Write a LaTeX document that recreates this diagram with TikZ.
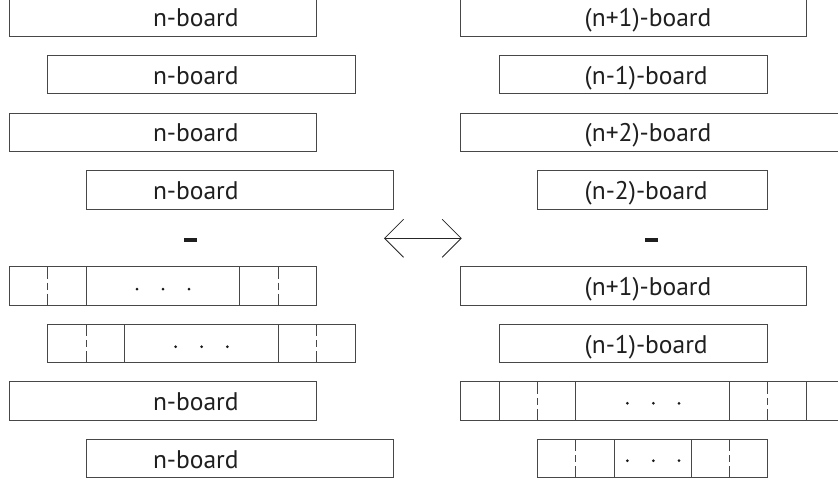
\documentclass[tikz,border=0pt]{standalone}
\usepackage{fontspec}
\setmainfont{PT Sans}
\usetikzlibrary{arrows.meta}
\begin{document}
\begin{tikzpicture}[x=1pt,y=-1pt,
  board/.style={draw=black!72, line width=0.9pt, minimum height=38.4pt, inner sep=0pt, outer sep=0pt, anchor=west},
  lbl/.style={font=\fontsize{25.5}{30}\selectfont, text=black!88, inner sep=0pt, anchor=base west},
  sepline/.style={draw=black!72, line width=0.9pt},
  dsepline/.style={sepline, dash pattern=on 12pt off 4pt on 7pt off 4pt on 12pt off 0pt},
  dotmark/.style={circle, fill=black!90, inner sep=0pt, minimum size=3pt},
  minusbar/.style={fill=black!88, inner sep=0pt, minimum width=13.3pt, minimum height=4pt},
  barb/.style={draw=black!85, line width=0.8pt, {Straight Barb[length=19pt,width=38pt]}-{Straight Barb[length=19pt,width=38pt]}}
]
\useasboundingbox (0,0) rectangle (838,482);

% ---------- left column ----------
\node[board, minimum width=307.2pt] (L1) at (9.5,17) {};
\node[board, minimum width=307.2pt] (L2) at (47.9,74.6) {};
\node[board, minimum width=307.2pt] (L3) at (9.5,132.2) {};
\node[board, minimum width=307.2pt] (L4) at (86.3,189.8) {};
\node[board, minimum width=307.2pt] (L5) at (9.5,285.8) {};
\node[board, minimum width=307.2pt] (L6) at (47.9,343.4) {};
\node[board, minimum width=307.2pt] (L7) at (9.5,401) {};
\node[board, minimum width=307.2pt] (L8) at (86.3,458.6) {};

\node[lbl] (tL1) at (152.8,26.7) {n-board};
\node[lbl] (tL2) at (152.8,84.3) {n-board};
\node[lbl] (tL3) at (152.8,141.9) {n-board};
\node[lbl] (tL4) at (152.8,199.5) {n-board};
\node[lbl] (tL7) at (152.8,410.7) {n-board};
\node[lbl] (tL8) at (152.8,468.3) {n-board};

% segmented left rows
\draw[dsepline] ([xshift=38.4pt]L5.north west) -- ([xshift=38.4pt]L5.south west);
\draw[sepline]  ([xshift=76.8pt]L5.north west) -- ([xshift=76.8pt]L5.south west);
\draw[sepline]  ([xshift=230.4pt]L5.north west) -- ([xshift=230.4pt]L5.south west);
\draw[dsepline] ([xshift=268.8pt]L5.north west) -- ([xshift=268.8pt]L5.south west);
\node[dotmark] at (137,289) {};
\node[dotmark] at (163,289) {};
\node[dotmark] at (189,289) {};

\draw[dsepline] ([xshift=38.4pt]L6.north west) -- ([xshift=38.4pt]L6.south west);
\draw[sepline]  ([xshift=76.8pt]L6.north west) -- ([xshift=76.8pt]L6.south west);
\draw[sepline]  ([xshift=230.4pt]L6.north west) -- ([xshift=230.4pt]L6.south west);
\draw[dsepline] ([xshift=268.8pt]L6.north west) -- ([xshift=268.8pt]L6.south west);
\node[dotmark] at (175.7,346.7) {};
\node[dotmark] at (201.7,346.7) {};
\node[dotmark] at (227.3,346.7) {};

% ---------- right column ----------
\node[board, minimum width=345.6pt] (R1) at (460.7,17) {};
\node[board, minimum width=268.8pt] (R2) at (499.1,74.6) {};
\node[board, minimum width=384pt]   (R3) at (460.7,132.2) {};
\node[board, minimum width=230.4pt] (R4) at (537.5,189.8) {};
\node[board, minimum width=345.6pt] (R5) at (460.7,285.8) {};
\node[board, minimum width=268.8pt] (R6) at (499.1,343.4) {};
\node[board, minimum width=384pt]   (R7) at (460.7,401) {};
\node[board, minimum width=230.4pt] (R8) at (537.5,458.6) {};

\node[lbl] (tR1) at (584.5,26.7) {(n+1)-board};
\node[lbl] (tR2) at (584.5,84.3) {(n-1)-board};
\node[lbl] (tR3) at (584.5,141.9) {(n+2)-board};
\node[lbl] (tR4) at (584.5,199.5) {(n-2)-board};
\node[lbl] (tR5) at (584.5,295.5) {(n+1)-board};
\node[lbl] (tR6) at (584.5,353.1) {(n-1)-board};

\draw[sepline]  ([xshift=38.4pt]R7.north west) -- ([xshift=38.4pt]R7.south west);
\draw[dsepline] ([xshift=76.8pt]R7.north west) -- ([xshift=76.8pt]R7.south west);
\draw[sepline]  ([xshift=115.2pt]R7.north west) -- ([xshift=115.2pt]R7.south west);
\draw[sepline]  ([xshift=268.8pt]R7.north west) -- ([xshift=268.8pt]R7.south west);
\draw[dsepline] ([xshift=307.2pt]R7.north west) -- ([xshift=307.2pt]R7.south west);
\draw[sepline]  ([xshift=345.6pt]R7.north west) -- ([xshift=345.6pt]R7.south west);
\node[dotmark] at (627.3,403.3) {};
\node[dotmark] at (653.3,403.3) {};
\node[dotmark] at (679,403.3) {};

\draw[dsepline] ([xshift=38.4pt]R8.north west) -- ([xshift=38.4pt]R8.south west);
\draw[sepline]  ([xshift=76.8pt]R8.north west) -- ([xshift=76.8pt]R8.south west);
\draw[sepline]  ([xshift=153.6pt]R8.north west) -- ([xshift=153.6pt]R8.south west);
\draw[dsepline] ([xshift=192pt]R8.north west) -- ([xshift=192pt]R8.south west);
\node[dotmark] at (627.3,460.7) {};
\node[dotmark] at (653.3,460.7) {};
\node[dotmark] at (679,460.7) {};

% ---------- minus signs and double arrow ----------
\node[minusbar] (mL) at (190.7,240.3) {};
\node[minusbar] (mR) at (651.7,240.3) {};

\coordinate (aL) at (384,238.3);
\coordinate (aR) at (461.7,238.3);
\draw[barb] (aL) -- (aR);
\end{tikzpicture}
\end{document}
